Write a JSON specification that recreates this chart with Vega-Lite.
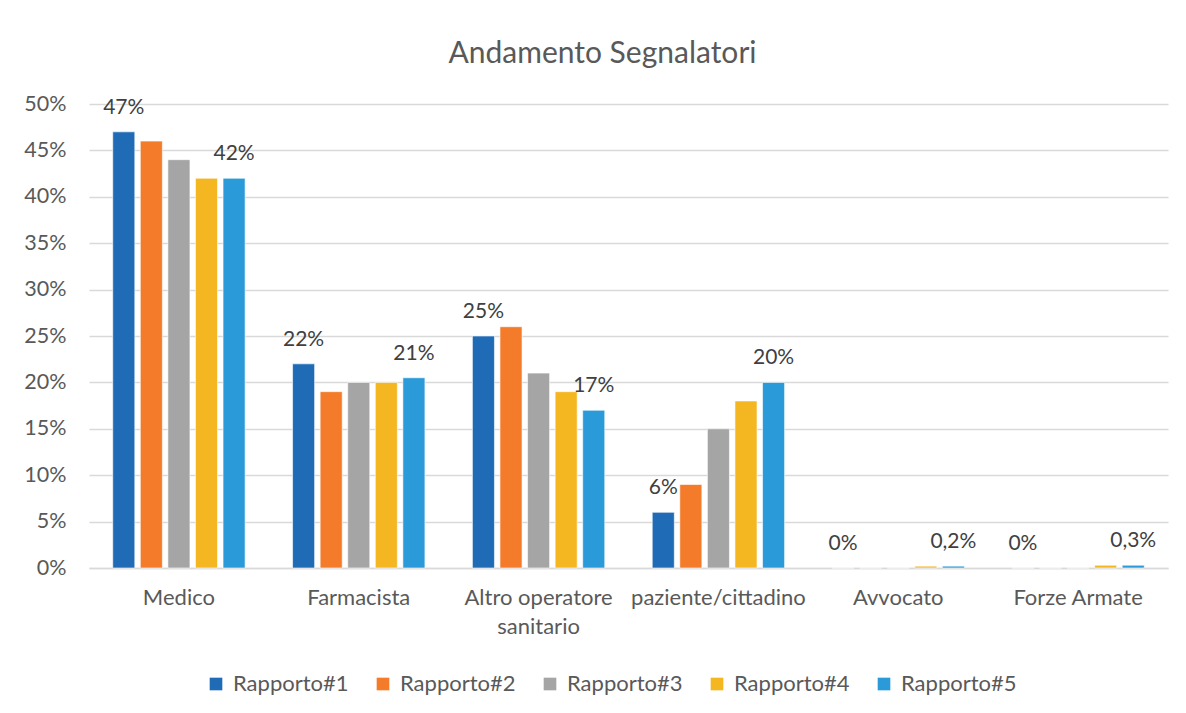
{
  "$schema": "https://vega.github.io/schema/vega-lite/v6.json",
  "autosize": {"type": "none"},
  "width": 1079,
  "height": 464,
  "padding": {"left": 89, "top": 104, "right": 18, "bottom": 145},
  "background": "#ffffff",
  "title": {
    "text": "Andamento Segnalatori",
    "font": "Lato",
    "fontSize": 30,
    "fontWeight": 400,
    "color": "#595959",
    "anchor": "middle",
    "baseline": "alphabetic",
    "dx": -26,
    "offset": 0
  },
  "data": {
    "values": [
      {"cat": "Medico", "serie": "Rapporto#1", "v": 0.47, "lab": "47%"},
      {"cat": "Medico", "serie": "Rapporto#2", "v": 0.46, "lab": ""},
      {"cat": "Medico", "serie": "Rapporto#3", "v": 0.44, "lab": ""},
      {"cat": "Medico", "serie": "Rapporto#4", "v": 0.42, "lab": ""},
      {"cat": "Medico", "serie": "Rapporto#5", "v": 0.42, "lab": "42%"},
      {"cat": "Farmacista", "serie": "Rapporto#1", "v": 0.22, "lab": "22%"},
      {"cat": "Farmacista", "serie": "Rapporto#2", "v": 0.19, "lab": ""},
      {"cat": "Farmacista", "serie": "Rapporto#3", "v": 0.20, "lab": ""},
      {"cat": "Farmacista", "serie": "Rapporto#4", "v": 0.20, "lab": ""},
      {"cat": "Farmacista", "serie": "Rapporto#5", "v": 0.205, "lab": "21%"},
      {"cat": "Altro operatore sanitario", "serie": "Rapporto#1", "v": 0.25, "lab": "25%"},
      {"cat": "Altro operatore sanitario", "serie": "Rapporto#2", "v": 0.26, "lab": ""},
      {"cat": "Altro operatore sanitario", "serie": "Rapporto#3", "v": 0.21, "lab": ""},
      {"cat": "Altro operatore sanitario", "serie": "Rapporto#4", "v": 0.19, "lab": ""},
      {"cat": "Altro operatore sanitario", "serie": "Rapporto#5", "v": 0.17, "lab": "17%"},
      {"cat": "paziente/cittadino", "serie": "Rapporto#1", "v": 0.06, "lab": "6%"},
      {"cat": "paziente/cittadino", "serie": "Rapporto#2", "v": 0.09, "lab": ""},
      {"cat": "paziente/cittadino", "serie": "Rapporto#3", "v": 0.15, "lab": ""},
      {"cat": "paziente/cittadino", "serie": "Rapporto#4", "v": 0.18, "lab": ""},
      {"cat": "paziente/cittadino", "serie": "Rapporto#5", "v": 0.20, "lab": "20%"},
      {"cat": "Avvocato", "serie": "Rapporto#1", "v": 0, "lab": "0%"},
      {"cat": "Avvocato", "serie": "Rapporto#2", "v": 0, "lab": ""},
      {"cat": "Avvocato", "serie": "Rapporto#3", "v": 0, "lab": ""},
      {"cat": "Avvocato", "serie": "Rapporto#4", "v": 0.002, "lab": ""},
      {"cat": "Avvocato", "serie": "Rapporto#5", "v": 0.002, "lab": "0,2%"},
      {"cat": "Forze Armate", "serie": "Rapporto#1", "v": 0, "lab": "0%"},
      {"cat": "Forze Armate", "serie": "Rapporto#2", "v": 0, "lab": ""},
      {"cat": "Forze Armate", "serie": "Rapporto#3", "v": 0, "lab": ""},
      {"cat": "Forze Armate", "serie": "Rapporto#4", "v": 0.003, "lab": ""},
      {"cat": "Forze Armate", "serie": "Rapporto#5", "v": 0.003, "lab": "0,3%"}
    ]
  },
  "encoding": {
    "x": {
      "field": "cat",
      "type": "nominal",
      "sort": null,
      "scale": {"paddingInner": 0.264, "paddingOuter": 0.132},
      "axis": {
        "title": null,
        "labelAngle": 0,
        "labelFont": "Lato",
        "labelFontSize": 22,
        "labelColor": "#595959",
        "labelPadding": 19,
        "labelLineHeight": 29,
        "labelBaseline": "top",
        "ticks": false,
        "domainColor": "#d9d9d9",
        "domainWidth": 1.5,
        "grid": false,
        "labelExpr": "datum.value == 'Altro operatore sanitario' ? ['Altro operatore', 'sanitario'] : datum.value"
      }
    },
    "xOffset": {
      "field": "serie",
      "type": "nominal",
      "sort": null,
      "scale": {"paddingInner": 0.2, "paddingOuter": 0}
    },
    "y": {
      "field": "v",
      "type": "quantitative",
      "scale": {"domain": [0, 0.5], "nice": false},
      "axis": {
        "title": null,
        "values": [0, 0.05, 0.1, 0.15, 0.2, 0.25, 0.3, 0.35, 0.4, 0.45, 0.5],
        "format": ".0%",
        "labelFont": "Lato",
        "labelFontSize": 21.5,
        "labelColor": "#595959",
        "labelPadding": 23,
        "ticks": false,
        "domain": false,
        "gridColor": "#d9d9d9",
        "gridWidth": 1.5
      }
    }
  },
  "layer": [
    {
      "mark": {"type": "bar", "stroke": "#ffffff", "strokeWidth": 0.6},
      "encoding": {
        "color": {
          "field": "serie",
          "type": "nominal",
          "sort": null,
          "scale": {
            "domain": ["Rapporto#1", "Rapporto#2", "Rapporto#3", "Rapporto#4", "Rapporto#5"],
            "range": ["#1f6bb5", "#f47b2a", "#a5a5a5", "#f5b721", "#2a9bd8"]
          },
          "legend": {
            "title": null,
            "orient": "none",
            "legendX": 116,
            "legendY": 569,
            "direction": "horizontal",
            "symbolType": "square",
            "symbolSize": 160,
            "symbolStrokeWidth": 0,
            "labelFont": "Lato",
            "labelFontSize": 22,
            "labelColor": "#595959",
            "labelOffset": 6,
            "columnPadding": 23
          }
        }
      }
    },
    {
      "transform": [{"filter": "datum.lab != ''"}],
      "mark": {
        "type": "text",
        "font": "Lato",
        "fontSize": 21,
        "color": "#404040",
        "baseline": "alphabetic",
        "dy": -18
      },
      "encoding": {
        "text": {"field": "lab"}
      }
    }
  ],
  "config": {
    "view": {"stroke": null}
  }
}
